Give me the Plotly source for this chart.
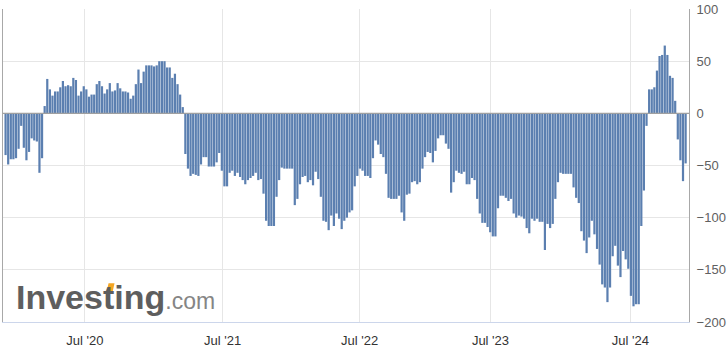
import plotly.graph_objects as go

# Weekly values (ordinal index)
seg_2020_start = [-40, -49, -44, -44, -43, -34, -12, -33, -45, -37, -24, -26, -27, -57, -43]
seg_2020_pos = [7, 33, 23, 17, 21, 21, 25, 31, 26, 27, 26, 34, 32, 17, 21, 26, 23, 16, 18, 18,
                28, 31, 26, 19, 23, 29, 21, 22, 29, 24, 21, 21, 20, 14, 17, 28, 42, 29, 40, 46,
                46, 46, 45, 46, 50, 50, 50, 44, 44, 34, 38, 28, 18, 6]
seg_2021_22 = [-39, -53, -60, -58, -59, -60, -49, -42, -42, -51, -51, -51, -47, -38, -55, -70, -70,
               -57, -55, -60, -57, -61, -64, -68, -64, -62, -60, -57, -64, -63, -77, -103, -108,
               -108, -108, -80, -64, -52, -53, -53, -53, -53, -88, -82, -68, -61, -60, -66, -64,
               -69, -56, -63, -80, -103, -104, -112, -98, -108, -96, -101, -111, -103, -100, -95,
               -93, -70, -60, -53, -55, -60, -60]
seg_2022_23 = [-62, -43, -26, -30, -39, -42, -58, -81, -82, -82, -82, -79, -95, -103, -78, -77, -66,
               -65, -68, -66, -53, -42, -37, -38, -47, -36, -24, -21, -21, -29, -34, -76, -66, -55,
               -57, -58, -56, -68, -68, -62, -64, -82, -96, -105, -105, -109, -114, -118, -118, -91,
               -79, -79, -81, -84, -82, -96, -100, -98, -99, -101, -110, -115, -101, -103, -101]
seg_2023_24 = [-104, -104, -131, -106, -110, -106, -82, -66, -57, -58, -58, -58, -58, -71, -81, -86,
               -113, -122, -134, -119, -103, -116, -130, -145, -164, -167, -181, -167, -137, -127,
               -146, -157, -132, -140, -149, -175, -185, -183, -183, -108, -74, -12, 23, 23, 25, 41,
               55, 56, 65, 56, 36, 34, 12, -25, -45, -65, -48]

values = seg_2020_start + seg_2020_pos + seg_2021_22 + seg_2022_23 + seg_2023_24
index = list(range(len(values)))

tick_labels = ["Jul '20", "Jul '21", "Jul '22", "Jul '23", "Jul '24"]
tick_pos = [30.45, 83.3, 135.9, 186.1, 239.8]
y_ticks = [100, 50, 0, -50, -100, -150, -200]

FONT = "Arial, Liberation Sans, sans-serif"


def px_to_paper(px, py):
    # plot area: x 2..691, y 7..322
    return (px - 2) / 689.0, (322 - py) / 315.0


# small orange accent of the logo
accent = [px_to_paper(*p) for p in [(106, 292), (112, 292), (114, 283), (108, 283)]]
accent_path = "M {} {} L {} {} L {} {} L {} {} Z".format(
    accent[0][0], accent[0][1], accent[1][0], accent[1][1],
    accent[2][0], accent[2][1], accent[3][0], accent[3][1])

fig = go.Figure()
fig.add_trace(go.Bar(
    x=index, y=values,
    marker=dict(color="#5b7fb0", line=dict(width=0)),
    hoverinfo="y",
))

fig.update_layout(
    width=728, height=355,
    margin=dict(l=2, r=37, t=7, b=33),
    paper_bgcolor="white", plot_bgcolor="white",
    bargap=0.15,
    showlegend=False,
    font=dict(family=FONT),
    xaxis=dict(
        range=[-0.99, len(values) + 0.3],
        tickvals=tick_pos, ticktext=tick_labels,
        showgrid=True, gridcolor="#e6e6e6", gridwidth=1,
        showline=True, linecolor="#ccd6eb", linewidth=1,
        ticks="", zeroline=False,
        tickfont=dict(size=13, color="#333333", family=FONT),
        ticklabelstandoff=6,
        ticklabeloverflow="allow",
        fixedrange=True,
    ),
    yaxis=dict(
        side="right",
        range=[-200.05, 100.05],
        tickvals=y_ticks,
        showgrid=True, gridcolor="#e6e6e6", gridwidth=1,
        showline=True, linecolor="#a8a8a8", linewidth=1, mirror=True,
        ticks="", zeroline=False,
        tickfont=dict(size=13, color="#606060", family=FONT),
        ticklabelstandoff=4,
        ticklabeloverflow="allow",
        fixedrange=True,
    ),
    shapes=[
        dict(type="line", xref="paper", yref="y", x0=0, x1=1, y0=0, y1=0,
             line=dict(color="#a0a0a0", width=1.2), layer="above"),
        dict(type="path", xref="paper", yref="paper", path=accent_path,
             fillcolor="#f5a623", line=dict(width=0), layer="above"),
    ],
    annotations=[
        dict(
            xref="paper", yref="paper", x=0.0160, y=0.079,
            xanchor="left", yanchor="middle", showarrow=False,
            text="<b>Investing</b><span style='font-size:23px;color:#858585'>.com</span>",
            font=dict(size=34, color="#5e5e5e", family=FONT),
        ),
    ],
)

fig.write_html("out.html")
